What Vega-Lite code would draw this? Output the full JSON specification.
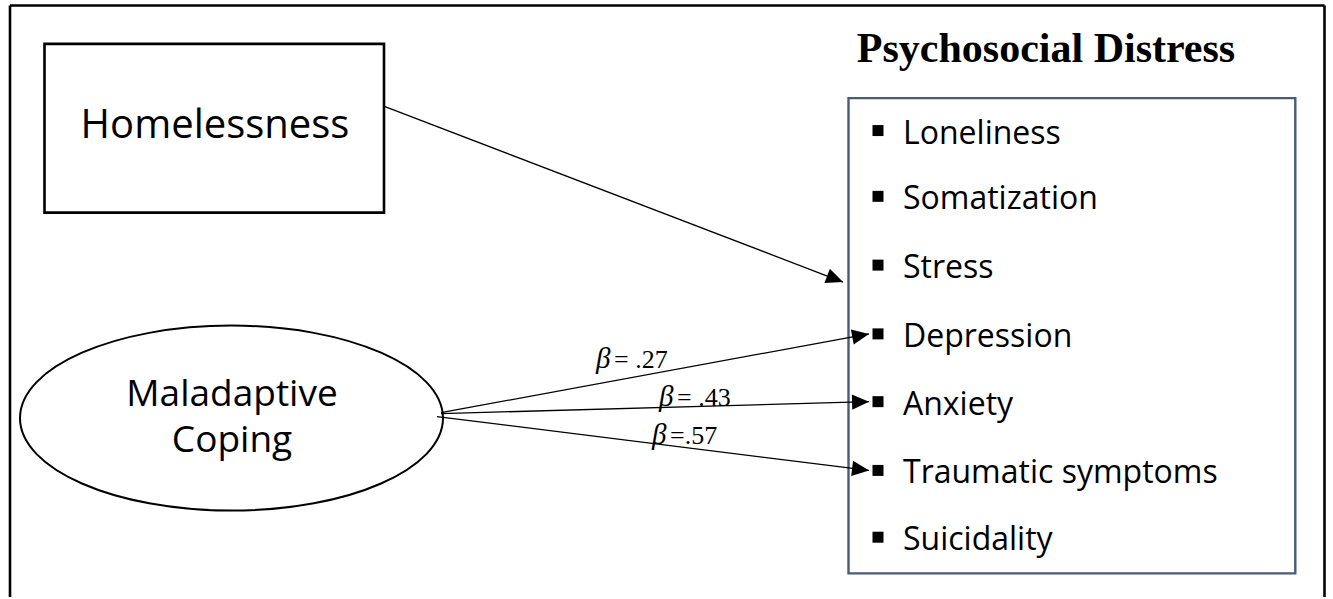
{
  "$schema": "https://vega.github.io/schema/vega-lite/v6.json",
  "width": 1333,
  "height": 599,
  "autosize": {"type": "fit", "contains": "padding"},
  "padding": 0,
  "background": "white",
  "config": {"view": {"stroke": null}},
  "encoding": {
    "x": {"field": "x", "type": "quantitative", "scale": {"domain": [0, 1333], "nice": false, "zero": false}, "axis": null},
    "y": {"field": "y", "type": "quantitative", "scale": {"domain": [0, 599], "nice": false, "zero": false, "reverse": true}, "axis": null}
  },
  "layer": [
    {
      "data": {"values": [
        {"x": 10, "y": 5.5, "x2": 10, "y2": 599},
        {"x": 10, "y": 5.5, "x2": 1324.5, "y2": 5.5},
        {"x": 1324.5, "y": 5.5, "x2": 1324.5, "y2": 599}
      ]},
      "mark": {"type": "rule", "color": "black", "strokeWidth": 2.6},
      "encoding": {
        "x2": {"field": "x2"},
        "y2": {"field": "y2"}
      }
    },
    {
      "data": {"values": [
        {"node": "Homelessness", "x": 44.5, "y": 44, "x2": 384, "y2": 213.3}
      ]},
      "mark": {"type": "rect", "fill": "white", "stroke": "black", "strokeWidth": 2.6},
      "encoding": {
        "x2": {"field": "x2"},
        "y2": {"field": "y2"}
      }
    },
    {
      "data": {"values": [
        {"node": "Psychosocial Distress", "x": 848.5, "y": 98.5, "x2": 1295.3, "y2": 575.3}
      ]},
      "mark": {"type": "rect", "fill": "white", "stroke": "#4b5b76", "strokeWidth": 2.4},
      "encoding": {
        "x2": {"field": "x2"},
        "y2": {"field": "y2"}
      }
    },
    {
      "data": {"values": [
        {"node": "Maladaptive Coping", "x": 231.5, "y": 419.5}
      ]},
      "mark": {
        "type": "point",
        "shape": "M 1 0 C 1 0.2416 0.5523 0.4374 0 0.4374 C -0.5523 0.4374 -1 0.2416 -1 0 C -1 -0.2416 -0.5523 -0.4374 0 -0.4374 C 0.5523 -0.4374 1 -0.2416 1 0 Z",
        "filled": false,
        "stroke": "black",
        "strokeWidth": 2,
        "opacity": 1,
        "strokeOpacity": 1
      },
      "encoding": {
        "size": {"value": 178929}
      }
    },
    {
      "data": {"name": "paths", "values": [
        {"from": "Homelessness", "to": "Psychosocial Distress", "x": 385, "y": 107, "x2": 843, "y2": 283},
        {"from": "Maladaptive Coping", "to": "Depression", "x": 441, "y": 414, "x2": 869, "y2": 335},
        {"from": "Maladaptive Coping", "to": "Anxiety", "x": 441, "y": 415, "x2": 869, "y2": 403},
        {"from": "Maladaptive Coping", "to": "Traumatic symptoms", "x": 437, "y": 418, "x2": 869, "y2": 472}
      ]},
      "layer": [
        {
          "mark": {"type": "rule", "color": "black", "strokeWidth": 1.3},
          "encoding": {
            "x2": {"field": "x2"},
            "y2": {"field": "y2"}
          }
        },
        {
          "transform": [
            {"calculate": "atan2(datum.y2 - datum.y, datum.x2 - datum.x) * 180 / PI", "as": "ang"}
          ],
          "mark": {
            "type": "point",
            "shape": "M 0 0 L -1 -0.45 L -1 0.45 Z",
            "filled": true,
            "color": "black",
            "opacity": 1
          },
          "encoding": {
            "x": {"field": "x2", "type": "quantitative"},
            "y": {"field": "y2", "type": "quantitative"},
            "angle": {"field": "ang", "type": "quantitative", "scale": null},
            "size": {"value": 1150}
          }
        }
      ]
    },
    {
      "data": {"values": [
        {"item": "Loneliness", "x": 878, "y": 131, "tx": 903, "ty": 144},
        {"item": "Somatization", "x": 878, "y": 197, "tx": 903, "ty": 210},
        {"item": "Stress", "x": 878, "y": 266, "tx": 903, "ty": 279},
        {"item": "Depression", "x": 878, "y": 335, "tx": 903, "ty": 348},
        {"item": "Anxiety", "x": 878, "y": 403, "tx": 903, "ty": 416},
        {"item": "Traumatic symptoms", "x": 878, "y": 472, "tx": 903, "ty": 485},
        {"item": "Suicidality", "x": 878, "y": 539, "tx": 903, "ty": 552}
      ]},
      "layer": [
        {
          "mark": {"type": "point", "shape": "square", "filled": true, "color": "black", "opacity": 1},
          "encoding": {"size": {"value": 121}}
        },
        {
          "mark": {"type": "text", "align": "left", "baseline": "alphabetic", "font": "Open Sans", "fontSize": 32, "color": "black"},
          "encoding": {
            "x": {"field": "tx", "type": "quantitative"},
            "y": {"field": "ty", "type": "quantitative"},
            "text": {"field": "item"}
          }
        }
      ]
    },
    {
      "data": {"values": [
        {"label": "Homelessness", "x": 215, "y": 138}
      ]},
      "mark": {"type": "text", "align": "center", "baseline": "alphabetic", "font": "Open Sans", "fontSize": 40, "color": "black"},
      "encoding": {"text": {"field": "label"}}
    },
    {
      "data": {"values": [
        {"label": ["Maladaptive", "Coping"], "x": 232, "y": 407}
      ]},
      "mark": {"type": "text", "align": "center", "baseline": "alphabetic", "font": "Open Sans", "fontSize": 37, "lineHeight": 46, "color": "black"},
      "encoding": {"text": {"field": "label"}}
    },
    {
      "data": {"values": [
        {"label": "Psychosocial Distress", "x": 1046, "y": 62}
      ]},
      "mark": {"type": "text", "align": "center", "baseline": "alphabetic", "font": "Liberation Serif", "fontWeight": "bold", "fontSize": 42, "color": "black"},
      "encoding": {"text": {"field": "label"}}
    },
    {
      "data": {"values": [
        {"path": "Depression", "sym": "β", "rest": "= .27", "x": 596, "y": 369, "rx": 614},
        {"path": "Anxiety", "sym": "β", "rest": "= .43", "x": 659, "y": 407, "rx": 677},
        {"path": "Traumatic symptoms", "sym": "β", "rest": "=.57", "x": 652, "y": 445, "rx": 670}
      ]},
      "layer": [
        {
          "mark": {"type": "text", "align": "left", "baseline": "alphabetic", "font": "Liberation Serif", "fontStyle": "italic", "fontSize": 29, "color": "black"},
          "encoding": {"text": {"field": "sym"}}
        },
        {
          "mark": {"type": "text", "align": "left", "baseline": "alphabetic", "font": "Liberation Serif", "fontSize": 26, "color": "black"},
          "encoding": {
            "x": {"field": "rx", "type": "quantitative"},
            "text": {"field": "rest"}
          }
        }
      ]
    }
  ]
}
